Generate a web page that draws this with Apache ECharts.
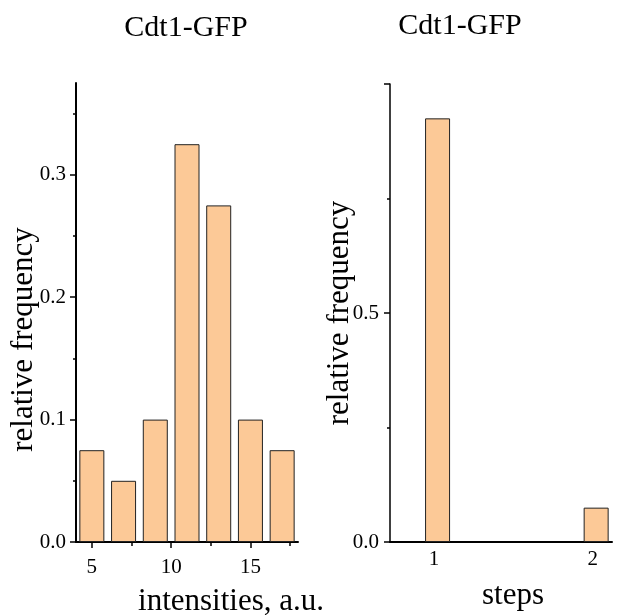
<!DOCTYPE html>
<html>
<head>
<meta charset="utf-8">
<script src="https://cdn.jsdelivr.net/npm/echarts@6/dist/echarts.min.js"></script>
<style>
  html, body { margin: 0; padding: 0; background: #fff; }
  #main { width: 617px; height: 615px; }
</style>
</head>
<body>
<div id="main"></div>
<script>
// intensity histogram (left)
var intensityBins = [5, 7, 9, 11, 13, 15, 17];
var intensityFreq = [0.075, 0.05, 0.1, 0.325, 0.275, 0.1, 0.075];
var intensityTicks = [5, 10, 15];
var intensityMinorTicks = [7.5, 12.5, 17.5];
var leftYTicks = [0, 0.1, 0.2, 0.3];

// steps histogram (right)
var stepBins = [1, 2];
var stepFreq = [0.925, 0.075];
var rightYTicks = [0, 0.5, 1];
var rightYLabels = [0, 0.5];

var chart = echarts.init(document.getElementById('main'));
var font = 'Liberation Serif';
var barColor = '#FCC997';

function pairs(xs, ys) {
    var arr = [];
    for (var i = 0; i < xs.length; i++) {
        arr.push([xs[i], ys[i]]);
    }
    return arr;
}

var option = {
    backgroundColor: '#fff',
    animation: false,
    title: [{
        text: 'Cdt1-GFP',
        left: 181, top: 8, textAlign: 'center',
        textStyle: { fontFamily: font, fontSize: 30, fontWeight: 'normal', color: '#000' }
    }, {
        text: 'Cdt1-GFP',
        left: 455, top: 6, textAlign: 'center',
        textStyle: { fontFamily: font, fontSize: 30, fontWeight: 'normal', color: '#000' }
    }],
    grid: [
        { left: 76, top: 83, width: 222, height: 459, outerBoundsMode: 'none', containLabel: false },
        { left: 390, top: 84, width: 222, height: 458, outerBoundsMode: 'none', containLabel: false }
    ],
    xAxis: [{
        type: 'value', gridIndex: 0, min: 4, max: 18,
        name: 'intensities, a.u.', nameLocation: 'middle', nameGap: 44,
        nameTextStyle: { fontFamily: font, fontSize: 31, color: '#000', padding: [0, 0, 0, 88] },
        splitLine: { show: false },
        axisLine: { lineStyle: { color: '#000', width: 2 } },
        axisTick: { customValues: intensityTicks, length: 6, lineStyle: { color: '#000', width: 1.5 } },
        axisLabel: { customValues: intensityTicks, margin: 15, fontFamily: font, fontSize: 21, color: '#000' }
    }, {
        // minor ticks of the left x axis
        type: 'value', gridIndex: 0, min: 4, max: 18, position: 'bottom',
        splitLine: { show: false },
        axisLine: { show: false },
        axisTick: { customValues: intensityMinorTicks, length: 4, lineStyle: { color: '#000', width: 1.5 } },
        axisLabel: { show: false }
    }, {
        type: 'value', gridIndex: 1, min: 0.7, max: 2.1,
        name: 'steps', nameLocation: 'middle', nameGap: 38,
        nameTextStyle: { fontFamily: font, fontSize: 31, color: '#000', padding: [0, 0, 0, 24] },
        splitLine: { show: false },
        axisLine: { lineStyle: { color: '#000', width: 2 } },
        axisTick: { show: false },
        axisLabel: {
            customValues: stepBins, margin: 7, fontFamily: font, fontSize: 21, color: '#000',
            padding: [0, 7, 0, 0]
        }
    }],
    yAxis: [{
        type: 'value', gridIndex: 0, min: 0, max: 0.375, interval: 0.1,
        name: 'relative frequency', nameLocation: 'middle', nameGap: 37, nameMoveOverlap: false,
        nameTextStyle: { fontFamily: font, fontSize: 31, color: '#000', padding: [0, 54, 0, 0] },
        splitLine: { show: false },
        axisLine: { lineStyle: { color: '#000', width: 2 } },
        axisTick: { customValues: leftYTicks, length: 6, lineStyle: { color: '#000', width: 1.5 } },
        minorTick: { show: true, splitNumber: 2, length: 3, lineStyle: { color: '#000', width: 1.5 } },
        axisLabel: {
            customValues: leftYTicks, margin: 10, fontFamily: font, fontSize: 21, color: '#000',
            formatter: function(v) { return v.toFixed(1); }
        }
    }, {
        type: 'value', gridIndex: 1, min: 0, max: 1, interval: 0.5,
        name: 'relative frequency', nameLocation: 'middle', nameGap: 35, nameMoveOverlap: false,
        nameTextStyle: { fontFamily: font, fontSize: 31, color: '#000' },
        splitLine: { show: false },
        axisLine: { lineStyle: { color: '#000', width: 1.5 } },
        axisTick: { customValues: rightYTicks, length: 6, lineStyle: { color: '#000', width: 1.5 } },
        minorTick: { show: true, splitNumber: 2, length: 3, lineStyle: { color: '#000', width: 1.5 } },
        axisLabel: {
            customValues: rightYLabels, margin: 11, fontFamily: font, fontSize: 21, color: '#000',
            formatter: function(v) { return v.toFixed(1); }
        }
    }],
    series: [{
        type: 'bar', xAxisIndex: 0, yAxisIndex: 0,
        data: pairs(intensityBins, intensityFreq),
        barWidth: 25,
        itemStyle: { color: barColor, borderColor: '#222', borderWidth: 1 }
    }, {
        type: 'bar', xAxisIndex: 2, yAxisIndex: 1,
        data: pairs(stepBins, stepFreq),
        barWidth: 25,
        itemStyle: { color: barColor, borderColor: '#222', borderWidth: 1 }
    }]
};
chart.setOption(option);
</script>
</body>
</html>
